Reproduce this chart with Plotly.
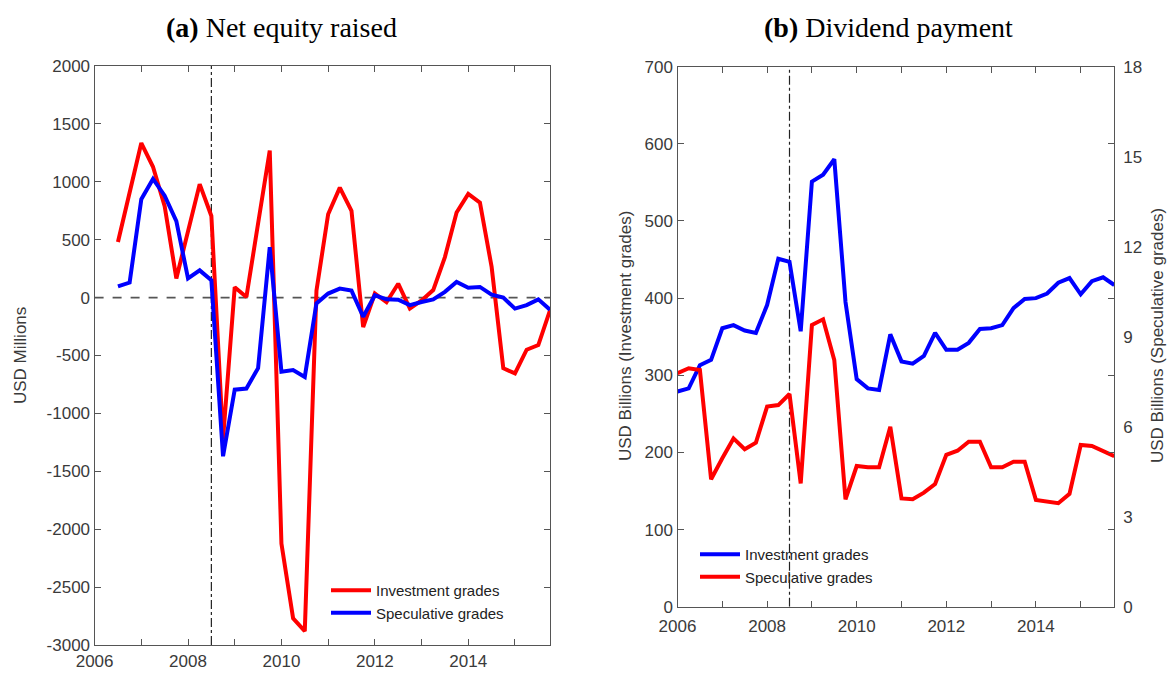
import plotly.graph_objects as go

W, H = 1169, 673

# quarterly time axis
quarters_a = [2006.5 + q / 4 for q in range(38)]
quarters_b = [2006.0 + q / 4 for q in range(40)]

# (a) Net equity raised, USD millions
equity_invest = [480, 905, 1335, 1130, 790, 165, 560, 980, 705, -1220,
                 90, 5, 640, 1270, -2125, -2770, -2880, 60, 720, 950,
                 750, -255, 35, -40, 120, -95, -25, 65, 350, 735,
                 895, 820, 265, -610, -655, -450, -410, -110]
equity_spec = [97, 130, 850, 1025, 880, 660, 165, 235, 150, -1370,
               -795, -785, -610, 435, -640, -625, -685, -50, 35, 78,
               60, -165, 20, -15, -18, -65, -38, -15, 50, 135,
               85, 92, 25, 0, -95, -65, -15, -105]

# (b) Dividend payment, USD billions
div_invest = [279, 283, 313, 320, 361, 365, 358, 355, 391, 451,
              447, 357, 551, 560, 580, 395, 295, 283, 281, 353,
              318, 315, 325, 355, 333, 333, 342, 360, 361, 365,
              387, 399, 400, 406, 420, 426, 405, 422, 427, 417]
div_spec = [7.78, 7.95, 7.89, 4.25, 4.95, 5.61, 5.25, 5.47, 6.67, 6.72,
            7.09, 4.11, 9.39, 9.58, 8.22, 3.58, 4.69, 4.65, 4.65, 6.0,
            3.61, 3.58, 3.8, 4.09, 5.06, 5.2, 5.5, 5.5, 4.65, 4.65,
            4.83, 4.83, 3.56, 3.5, 3.45, 3.76, 5.39, 5.36, 5.2, 5.02]

crisis = 2008.5
year_ticks = list(range(2006, 2016))
year_text = [str(y) if y % 2 == 0 else "" for y in year_ticks]
equity_ticks = list(range(-3000, 2001, 500))
invest_ticks = list(range(0, 701, 100))
spec_ticks = list(range(0, 19, 3))

RED, BLUE = "#ff0000", "#0000ff"
AX = "#555555"
TXT = "#3a3a3a"
sans = "Liberation Sans, Arial, sans-serif"
serif = "Liberation Serif, Times New Roman, serif"

fig = go.Figure()

fig.add_trace(go.Scatter(x=quarters_a, y=equity_invest, mode="lines", name="Investment grades",
                         line=dict(color=RED, width=4), xaxis="x", yaxis="y", legend="legend"))
fig.add_trace(go.Scatter(x=quarters_a, y=equity_spec, mode="lines", name="Speculative grades",
                         line=dict(color=BLUE, width=4), xaxis="x", yaxis="y", legend="legend"))
fig.add_trace(go.Scatter(x=quarters_b, y=div_invest, mode="lines", name="Investment grades",
                         line=dict(color=BLUE, width=4), xaxis="x2", yaxis="y2", legend="legend2"))
fig.add_trace(go.Scatter(x=quarters_b, y=div_spec, mode="lines", name="Speculative grades",
                         line=dict(color=RED, width=4), xaxis="x2", yaxis="y3", legend="legend2"))

# reference lines
fig.add_shape(type="line", xref="x", yref="y", x0=2006, x1=2015.75, y0=0, y1=0,
              line=dict(color="#555555", width=1.6, dash="dash"), layer="below")
fig.add_shape(type="line", xref="x", yref="y", x0=crisis, x1=crisis, y0=-3000, y1=2000,
              line=dict(color="#222222", width=1.2, dash="dashdot"), layer="below")
fig.add_shape(type="line", xref="x2", yref="y2", x0=crisis, x1=crisis, y0=0, y1=700,
              line=dict(color="#222222", width=1.2, dash="dashdot"), layer="below")

tickfont = dict(family=sans, size=17, color=TXT)
xcommon = dict(range=[2006, 2015.75], tickvals=year_ticks, ticktext=year_text,
               ticks="inside", ticklen=6, tickcolor=AX, showline=True, linecolor=AX,
               linewidth=1.3, mirror="ticks", showgrid=False, zeroline=False,
               automargin=False, tickfont=tickfont)
ycommon = dict(ticks="inside", ticklen=6, tickcolor=AX, showline=True, linecolor=AX,
               linewidth=1.3, mirror="ticks", showgrid=False, zeroline=False,
               automargin=False, tickfont=tickfont)

fig.update_layout(
    width=W, height=H,
    margin=dict(l=0, r=0, t=0, b=0, autoexpand=False),
    paper_bgcolor="white", plot_bgcolor="white",
    xaxis=dict(domain=[94.6 / W, 550 / W], anchor="y", ticklabelstandoff=0, **xcommon),
    yaxis=dict(domain=[1 - 645 / H, 1 - 66 / H], anchor="x", range=[-3000, 2000],
               tickvals=equity_ticks, ticktext=[str(v) for v in equity_ticks], **ycommon),
    xaxis2=dict(domain=[677.5 / W, 1114.3 / W], anchor="y2", ticklabelstandoff=4, **xcommon),
    yaxis2=dict(domain=[1 - 606.7 / H, 1 - 66.7 / H], anchor="x2", range=[0, 700],
                tickvals=invest_ticks, **ycommon),
    yaxis3=dict(overlaying="y2", side="right", anchor="x2", range=[0, 18],
                tickvals=spec_ticks, ticks="", showline=False,
                showgrid=False, zeroline=False, ticklabelstandoff=8, automargin=False,
                tickfont=tickfont),
    legend=dict(x=326 / W, y=1 - 574 / H, xanchor="left", yanchor="top",
                bgcolor="rgba(0,0,0,0)", font=dict(family=sans, size=15, color="#222"),
                tracegroupgap=0, itemwidth=40),
    legend2=dict(x=695 / W, y=1 - 538 / H, xanchor="left", yanchor="top",
                 bgcolor="rgba(0,0,0,0)", font=dict(family=sans, size=15, color="#222"),
                 tracegroupgap=0, itemwidth=40),
    showlegend=True,
)

fig.add_annotation(text="<b>(a)</b> Net equity raised", x=281 / W, y=1 - 28 / H,
                   xref="paper", yref="paper", xanchor="center", yanchor="middle",
                   showarrow=False, font=dict(family=serif, size=28, color="black"))
fig.add_annotation(text="<b>(b)</b> Dividend payment", x=888 / W, y=1 - 28 / H,
                   xref="paper", yref="paper", xanchor="center", yanchor="middle",
                   showarrow=False, font=dict(family=serif, size=28, color="black"))
fig.add_annotation(text="USD Millions", x=20 / W, y=1 - 356 / H, xref="paper", yref="paper",
                   xanchor="center", yanchor="middle", showarrow=False, textangle=-90,
                   font=dict(family=sans, size=17, color=TXT))
fig.add_annotation(text="USD Billions (Investment grades)", x=625 / W, y=1 - 336 / H,
                   xref="paper", yref="paper", xanchor="center", yanchor="middle",
                   showarrow=False, textangle=-90, font=dict(family=sans, size=17, color=TXT))
fig.add_annotation(text="USD Billions (Speculative grades)", x=1157 / W, y=1 - 336 / H,
                   xref="paper", yref="paper", xanchor="center", yanchor="middle",
                   showarrow=False, textangle=-90, font=dict(family=sans, size=17, color=TXT))

fig.write_html("out.html", config={"displayModeBar": False},
               post_script="document.body.style.margin='0';")
